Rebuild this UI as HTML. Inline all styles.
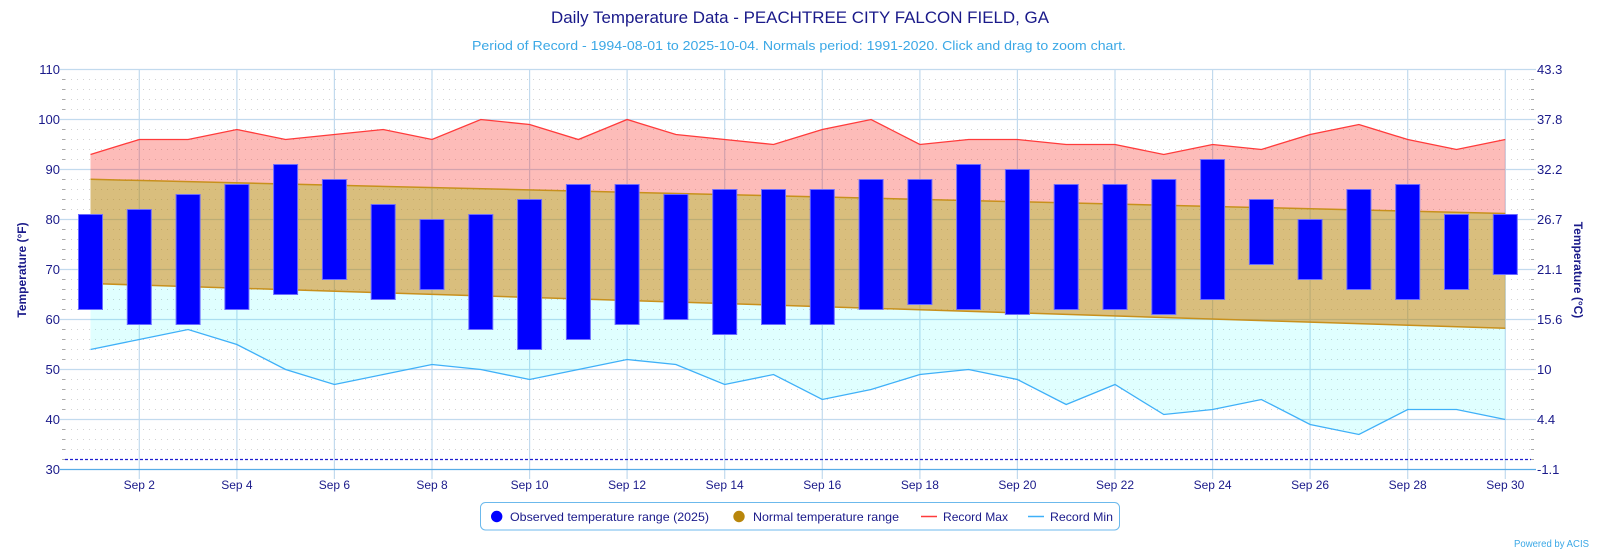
<!DOCTYPE html>
<html><head><meta charset="utf-8"><style>
html,body{margin:0;padding:0;background:#fff;}
svg{display:block;font-family:"Liberation Sans",Arial,sans-serif;}
</style></head><body>
<svg width="1600" height="552" viewBox="0 0 1600 552" xmlns="http://www.w3.org/2000/svg">
<rect width="1600" height="552" fill="#fff"/>
<!-- title -->
<text x="800" y="23" text-anchor="middle" font-size="16.5" fill="#1a1a8a" textLength="498" lengthAdjust="spacingAndGlyphs">Daily Temperature Data - PEACHTREE CITY FALCON FIELD, GA</text>
<text x="799" y="50" text-anchor="middle" font-size="12.5" fill="#3ba8e6" textLength="654" lengthAdjust="spacingAndGlyphs">Period of Record - 1994-08-01 to 2025-10-04. Normals period: 1991-2020. Click and drag to zoom chart.</text>

<!-- minor dotted grid -->
<g stroke="#d2d2d2" stroke-width="1" stroke-dasharray="1,5">
<line x1="65" x2="1531" y1="79.5" y2="79.5"/><line x1="65" x2="1531" y1="89.5" y2="89.5"/><line x1="65" x2="1531" y1="99.5" y2="99.5"/><line x1="65" x2="1531" y1="109.5" y2="109.5"/>
<line x1="65" x2="1531" y1="129.5" y2="129.5"/><line x1="65" x2="1531" y1="139.5" y2="139.5"/><line x1="65" x2="1531" y1="149.5" y2="149.5"/><line x1="65" x2="1531" y1="159.5" y2="159.5"/>
<line x1="65" x2="1531" y1="179.5" y2="179.5"/><line x1="65" x2="1531" y1="189.5" y2="189.5"/><line x1="65" x2="1531" y1="199.5" y2="199.5"/><line x1="65" x2="1531" y1="209.5" y2="209.5"/>
<line x1="65" x2="1531" y1="229.5" y2="229.5"/><line x1="65" x2="1531" y1="239.5" y2="239.5"/><line x1="65" x2="1531" y1="249.5" y2="249.5"/><line x1="65" x2="1531" y1="259.5" y2="259.5"/>
<line x1="65" x2="1531" y1="279.5" y2="279.5"/><line x1="65" x2="1531" y1="289.5" y2="289.5"/><line x1="65" x2="1531" y1="299.5" y2="299.5"/><line x1="65" x2="1531" y1="309.5" y2="309.5"/>
<line x1="65" x2="1531" y1="329.5" y2="329.5"/><line x1="65" x2="1531" y1="339.5" y2="339.5"/><line x1="65" x2="1531" y1="349.5" y2="349.5"/><line x1="65" x2="1531" y1="359.5" y2="359.5"/>
<line x1="65" x2="1531" y1="379.5" y2="379.5"/><line x1="65" x2="1531" y1="389.5" y2="389.5"/><line x1="65" x2="1531" y1="399.5" y2="399.5"/><line x1="65" x2="1531" y1="409.5" y2="409.5"/>
<line x1="65" x2="1531" y1="429.5" y2="429.5"/><line x1="65" x2="1531" y1="439.5" y2="439.5"/><line x1="65" x2="1531" y1="449.5" y2="449.5"/>
</g>
<!-- major horizontal grid -->
<g stroke="#c2daee" stroke-width="1.2">
<line x1="60" x2="1536" y1="69.5" y2="69.5"/><line x1="60" x2="1536" y1="119.5" y2="119.5"/><line x1="60" x2="1536" y1="169.5" y2="169.5"/><line x1="60" x2="1536" y1="219.5" y2="219.5"/>
<line x1="60" x2="1536" y1="269.5" y2="269.5"/><line x1="60" x2="1536" y1="319.5" y2="319.5"/><line x1="60" x2="1536" y1="369.5" y2="369.5"/><line x1="60" x2="1536" y1="419.5" y2="419.5"/>
</g>
<!-- vertical grid -->
<g stroke="#c2daee" stroke-width="1.2">
<line x1="139.3" x2="139.3" y1="69.5" y2="479"/><line x1="236.9" x2="236.9" y1="69.5" y2="479"/><line x1="334.4" x2="334.4" y1="69.5" y2="479"/><line x1="432.0" x2="432.0" y1="69.5" y2="479"/>
<line x1="529.6" x2="529.6" y1="69.5" y2="479"/><line x1="627.1" x2="627.1" y1="69.5" y2="479"/><line x1="724.7" x2="724.7" y1="69.5" y2="479"/><line x1="822.3" x2="822.3" y1="69.5" y2="479"/>
<line x1="919.9" x2="919.9" y1="69.5" y2="479"/><line x1="1017.4" x2="1017.4" y1="69.5" y2="479"/><line x1="1115.0" x2="1115.0" y1="69.5" y2="479"/><line x1="1212.6" x2="1212.6" y1="69.5" y2="479"/>
<line x1="1310.1" x2="1310.1" y1="69.5" y2="479"/><line x1="1407.7" x2="1407.7" y1="69.5" y2="479"/><line x1="1505.3" x2="1505.3" y1="69.5" y2="479"/>
</g>
<!-- minor ticks -->
<g stroke="#aaa" stroke-width="1">
<line x1="62" x2="65" y1="79.5" y2="79.5"/><line x1="62" x2="65" y1="89.5" y2="89.5"/><line x1="62" x2="65" y1="99.5" y2="99.5"/><line x1="62" x2="65" y1="109.5" y2="109.5"/>
<line x1="62" x2="65" y1="129.5" y2="129.5"/><line x1="62" x2="65" y1="139.5" y2="139.5"/><line x1="62" x2="65" y1="149.5" y2="149.5"/><line x1="62" x2="65" y1="159.5" y2="159.5"/>
<line x1="62" x2="65" y1="179.5" y2="179.5"/><line x1="62" x2="65" y1="189.5" y2="189.5"/><line x1="62" x2="65" y1="199.5" y2="199.5"/><line x1="62" x2="65" y1="209.5" y2="209.5"/>
<line x1="62" x2="65" y1="229.5" y2="229.5"/><line x1="62" x2="65" y1="239.5" y2="239.5"/><line x1="62" x2="65" y1="249.5" y2="249.5"/><line x1="62" x2="65" y1="259.5" y2="259.5"/>
<line x1="62" x2="65" y1="279.5" y2="279.5"/><line x1="62" x2="65" y1="289.5" y2="289.5"/><line x1="62" x2="65" y1="299.5" y2="299.5"/><line x1="62" x2="65" y1="309.5" y2="309.5"/>
<line x1="62" x2="65" y1="329.5" y2="329.5"/><line x1="62" x2="65" y1="339.5" y2="339.5"/><line x1="62" x2="65" y1="349.5" y2="349.5"/><line x1="62" x2="65" y1="359.5" y2="359.5"/>
<line x1="62" x2="65" y1="379.5" y2="379.5"/><line x1="62" x2="65" y1="389.5" y2="389.5"/><line x1="62" x2="65" y1="399.5" y2="399.5"/><line x1="62" x2="65" y1="409.5" y2="409.5"/>
<line x1="62" x2="65" y1="429.5" y2="429.5"/><line x1="62" x2="65" y1="439.5" y2="439.5"/><line x1="62" x2="65" y1="449.5" y2="449.5"/><line x1="62" x2="65" y1="459.5" y2="459.5"/>
<line x1="1531" x2="1534" y1="79.5" y2="79.5"/><line x1="1531" x2="1534" y1="89.5" y2="89.5"/><line x1="1531" x2="1534" y1="99.5" y2="99.5"/><line x1="1531" x2="1534" y1="109.5" y2="109.5"/>
<line x1="1531" x2="1534" y1="129.5" y2="129.5"/><line x1="1531" x2="1534" y1="139.5" y2="139.5"/><line x1="1531" x2="1534" y1="149.5" y2="149.5"/><line x1="1531" x2="1534" y1="159.5" y2="159.5"/>
<line x1="1531" x2="1534" y1="179.5" y2="179.5"/><line x1="1531" x2="1534" y1="189.5" y2="189.5"/><line x1="1531" x2="1534" y1="199.5" y2="199.5"/><line x1="1531" x2="1534" y1="209.5" y2="209.5"/>
<line x1="1531" x2="1534" y1="229.5" y2="229.5"/><line x1="1531" x2="1534" y1="239.5" y2="239.5"/><line x1="1531" x2="1534" y1="249.5" y2="249.5"/><line x1="1531" x2="1534" y1="259.5" y2="259.5"/>
<line x1="1531" x2="1534" y1="279.5" y2="279.5"/><line x1="1531" x2="1534" y1="289.5" y2="289.5"/><line x1="1531" x2="1534" y1="299.5" y2="299.5"/><line x1="1531" x2="1534" y1="309.5" y2="309.5"/>
<line x1="1531" x2="1534" y1="329.5" y2="329.5"/><line x1="1531" x2="1534" y1="339.5" y2="339.5"/><line x1="1531" x2="1534" y1="349.5" y2="349.5"/><line x1="1531" x2="1534" y1="359.5" y2="359.5"/>
<line x1="1531" x2="1534" y1="379.5" y2="379.5"/><line x1="1531" x2="1534" y1="389.5" y2="389.5"/><line x1="1531" x2="1534" y1="399.5" y2="399.5"/><line x1="1531" x2="1534" y1="409.5" y2="409.5"/>
<line x1="1531" x2="1534" y1="429.5" y2="429.5"/><line x1="1531" x2="1534" y1="439.5" y2="439.5"/><line x1="1531" x2="1534" y1="449.5" y2="449.5"/><line x1="1531" x2="1534" y1="459.5" y2="459.5"/>
</g>

<!-- record max fill (normal high -> record max) -->
<polygon fill="rgba(250,40,30,0.31)" points="90.5,154.5 139.3,139.5 188.1,139.5 236.9,129.5 285.6,139.5 334.4,134.5 383.2,129.5 432.0,139.5 480.8,119.5 529.6,124.5 578.4,139.5 627.1,119.5 675.9,134.5 724.7,139.5 773.5,144.5 822.3,129.5 871.1,119.5 919.9,144.5 968.6,139.5 1017.4,139.5 1066.2,144.5 1115.0,144.5 1163.8,154.5 1212.6,144.5 1261.4,149.5 1310.1,134.5 1358.9,124.5 1407.7,139.5 1456.5,149.5 1505.3,139.5 1505.3,213.5 90.5,179.3"/>
<!-- normal range fill -->
<polygon fill="rgba(184,134,11,0.535)" points="90.5,179.3 1505.3,213.5 1505.3,328.3 90.5,283.5"/>
<!-- record min fill (record min -> normal low) -->
<polygon fill="rgba(0,255,255,0.12)" points="90.5,283.5 1505.3,328.3 1505.3,419.5 1456.5,409.5 1407.7,409.5 1358.9,434.5 1310.1,424.5 1261.4,399.5 1212.6,409.5 1163.8,414.5 1115.0,384.5 1066.2,404.5 1017.4,379.5 968.6,369.5 919.9,374.5 871.1,389.5 822.3,399.5 773.5,374.5 724.7,384.5 675.9,364.5 627.1,359.5 578.4,369.5 529.6,379.5 480.8,369.5 432.0,364.5 383.2,374.5 334.4,384.5 285.6,369.5 236.9,344.5 188.1,329.5 139.3,339.5 90.5,349.5"/>

<!-- normal lines -->
<line x1="90.5" y1="179.3" x2="1505.3" y2="213.5" stroke="#c8901c" stroke-width="1.5"/>
<line x1="90.5" y1="283.5" x2="1505.3" y2="328.3" stroke="#c8901c" stroke-width="1.5"/>
<!-- record max line -->
<polyline fill="none" stroke="#ff3b3b" stroke-width="1.3" points="90.5,154.5 139.3,139.5 188.1,139.5 236.9,129.5 285.6,139.5 334.4,134.5 383.2,129.5 432.0,139.5 480.8,119.5 529.6,124.5 578.4,139.5 627.1,119.5 675.9,134.5 724.7,139.5 773.5,144.5 822.3,129.5 871.1,119.5 919.9,144.5 968.6,139.5 1017.4,139.5 1066.2,144.5 1115.0,144.5 1163.8,154.5 1212.6,144.5 1261.4,149.5 1310.1,134.5 1358.9,124.5 1407.7,139.5 1456.5,149.5 1505.3,139.5"/>
<!-- record min line -->
<polyline fill="none" stroke="#3fb0f8" stroke-width="1.3" points="90.5,349.5 139.3,339.5 188.1,329.5 236.9,344.5 285.6,369.5 334.4,384.5 383.2,374.5 432.0,364.5 480.8,369.5 529.6,379.5 578.4,369.5 627.1,359.5 675.9,364.5 724.7,384.5 773.5,374.5 822.3,399.5 871.1,389.5 919.9,374.5 968.6,369.5 1017.4,379.5 1066.2,404.5 1115.0,384.5 1163.8,414.5 1212.6,409.5 1261.4,399.5 1310.1,424.5 1358.9,434.5 1407.7,409.5 1456.5,409.5 1505.3,419.5"/>

<!-- freezing dashed line -->
<line x1="65" x2="1531" y1="459.5" y2="459.5" stroke="#2020d0" stroke-width="1.2" stroke-dasharray="3,2"/>
<!-- x axis line -->
<line x1="60" x2="1536" y1="469.5" y2="469.5" stroke="#58ace6" stroke-width="1.3"/>

<!-- observed bars -->
<g fill="#0000ff" stroke="#6b6bff" stroke-width="1">
<rect x="78.5" y="214.5" width="24" height="95"/>
<rect x="127.3" y="209.5" width="24" height="115"/>
<rect x="176.1" y="194.5" width="24" height="130"/>
<rect x="224.9" y="184.5" width="24" height="125"/>
<rect x="273.6" y="164.5" width="24" height="130"/>
<rect x="322.4" y="179.5" width="24" height="100"/>
<rect x="371.2" y="204.5" width="24" height="95"/>
<rect x="420.0" y="219.5" width="24" height="70"/>
<rect x="468.8" y="214.5" width="24" height="115"/>
<rect x="517.6" y="199.5" width="24" height="150"/>
<rect x="566.4" y="184.5" width="24" height="155"/>
<rect x="615.1" y="184.5" width="24" height="140"/>
<rect x="663.9" y="194.5" width="24" height="125"/>
<rect x="712.7" y="189.5" width="24" height="145"/>
<rect x="761.5" y="189.5" width="24" height="135"/>
<rect x="810.3" y="189.5" width="24" height="135"/>
<rect x="859.1" y="179.5" width="24" height="130"/>
<rect x="907.9" y="179.5" width="24" height="125"/>
<rect x="956.6" y="164.5" width="24" height="145"/>
<rect x="1005.4" y="169.5" width="24" height="145"/>
<rect x="1054.2" y="184.5" width="24" height="125"/>
<rect x="1103.0" y="184.5" width="24" height="125"/>
<rect x="1151.8" y="179.5" width="24" height="135"/>
<rect x="1200.6" y="159.5" width="24" height="140"/>
<rect x="1249.4" y="199.5" width="24" height="65"/>
<rect x="1298.1" y="219.5" width="24" height="60"/>
<rect x="1346.9" y="189.5" width="24" height="100"/>
<rect x="1395.7" y="184.5" width="24" height="115"/>
<rect x="1444.5" y="214.5" width="24" height="75"/>
<rect x="1493.3" y="214.5" width="24" height="60"/>
</g>

<!-- left axis labels -->
<g font-size="13" fill="#1a1a8a" text-anchor="end">
<text x="60" y="74">110</text><text x="60" y="124">100</text><text x="60" y="174">90</text><text x="60" y="224">80</text>
<text x="60" y="274">70</text><text x="60" y="324">60</text><text x="60" y="374">50</text><text x="60" y="424">40</text><text x="60" y="474">30</text>
</g>
<!-- right axis labels -->
<g font-size="13" fill="#1a1a8a" text-anchor="start">
<text x="1537" y="74">43.3</text><text x="1537" y="124">37.8</text><text x="1537" y="174">32.2</text><text x="1537" y="224">26.7</text>
<text x="1537" y="274">21.1</text><text x="1537" y="324">15.6</text><text x="1537" y="374">10</text><text x="1537" y="424">4.4</text><text x="1537" y="474">-1.1</text>
</g>
<!-- axis titles -->
<text transform="translate(26,270) rotate(-90)" text-anchor="middle" font-size="12" font-weight="bold" fill="#1a1a8a">Temperature (°F)</text>
<text transform="translate(1574,270) rotate(90)" text-anchor="middle" font-size="12" font-weight="bold" fill="#1a1a8a">Temperature (°C)</text>

<!-- x labels -->
<g font-size="12" fill="#1a1a8a" text-anchor="middle">
<text x="139.3" y="489">Sep 2</text><text x="236.9" y="489">Sep 4</text><text x="334.4" y="489">Sep 6</text><text x="432.0" y="489">Sep 8</text>
<text x="529.6" y="489">Sep 10</text><text x="627.1" y="489">Sep 12</text><text x="724.7" y="489">Sep 14</text><text x="822.3" y="489">Sep 16</text>
<text x="919.9" y="489">Sep 18</text><text x="1017.4" y="489">Sep 20</text><text x="1115.0" y="489">Sep 22</text><text x="1212.6" y="489">Sep 24</text>
<text x="1310.1" y="489">Sep 26</text><text x="1407.7" y="489">Sep 28</text><text x="1505.3" y="489">Sep 30</text>
</g>

<!-- legend -->
<rect x="480.5" y="502.5" width="639" height="27.5" rx="5" ry="5" fill="#fff" stroke="#6cb9ec" stroke-width="1"/>
<circle cx="496.7" cy="516.5" r="5.7" fill="#0000ff"/>
<text x="510" y="521" font-size="12" fill="#1a1a8a" textLength="199" lengthAdjust="spacingAndGlyphs">Observed temperature range (2025)</text>
<circle cx="739" cy="516.5" r="5.7" fill="#b8860b"/>
<text x="753" y="521" font-size="12" fill="#1a1a8a" textLength="146" lengthAdjust="spacingAndGlyphs">Normal temperature range</text>
<line x1="921" x2="937" y1="516.5" y2="516.5" stroke="#ff3b3b" stroke-width="1.5"/>
<text x="943" y="521" font-size="12" fill="#1a1a8a" textLength="65" lengthAdjust="spacingAndGlyphs">Record Max</text>
<line x1="1028" x2="1044" y1="516.5" y2="516.5" stroke="#3fb0f8" stroke-width="1.5"/>
<text x="1050" y="521" font-size="12" fill="#1a1a8a" textLength="63" lengthAdjust="spacingAndGlyphs">Record Min</text>

<text x="1589" y="547" text-anchor="end" font-size="10" fill="#3ba8e6" textLength="75" lengthAdjust="spacingAndGlyphs">Powered by ACIS</text>
</svg>
</body></html>
